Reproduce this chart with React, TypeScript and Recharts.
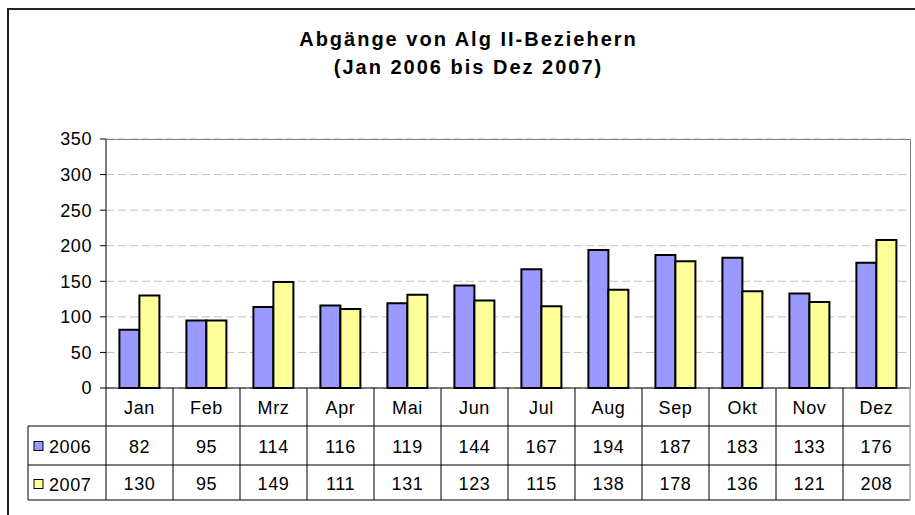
import React from 'react';
import { BarChart, Bar, XAxis, YAxis, CartesianGrid } from 'recharts';

const months = ['Jan', 'Feb', 'Mrz', 'Apr', 'Mai', 'Jun', 'Jul', 'Aug', 'Sep', 'Okt', 'Nov', 'Dez'];
const values2006 = [82, 95, 114, 116, 119, 144, 167, 194, 187, 183, 133, 176];
const values2007 = [130, 95, 149, 111, 131, 123, 115, 138, 178, 136, 121, 208];
const yTicks = [0, 50, 100, 150, 200, 250, 300, 350];
const seriesNames = ['2006', '2007'];
const titleLines = ['Abgänge von Alg II-Beziehern', '(Jan 2006 bis Dez 2007)'];

const data = months.map((m, i) => ({ month: m, v2006: values2006[i], v2007: values2007[i] }));

const W = 915;
const H = 515;
const PLOT_LEFT = 106;
const PLOT_RIGHT = 910;
const PLOT_TOP = 139;
const PLOT_BOTTOM = 388;
const ROW1 = 426;
const ROW2 = 465;
const ROW3 = 500;
const LEGEND_LEFT = 28;
const FONT = '"Liberation Sans", Arial, sans-serif';
const COLORS = ['#9999FF', '#FFFF99'];
const CW = (PLOT_RIGHT - PLOT_LEFT) / months.length;

const TableTick = (props: any) => {
  const { x, payload, index } = props;
  const row = data[index];
  const textStyle = { fontFamily: FONT, fontSize: 18, letterSpacing: 0.6, fill: '#000' } as any;
  const right = x + CW / 2;
  const first = index === 0;
  const left = x - CW / 2;
  return (
    <g>
      <text x={x} y={414} textAnchor="middle" style={textStyle}>{payload.value}</text>
      <text x={x} y={453} textAnchor="middle" style={textStyle}>{row.v2006}</text>
      <text x={x} y={490} textAnchor="middle" style={textStyle}>{row.v2007}</text>
      <line x1={right} y1={PLOT_BOTTOM} x2={right} y2={ROW3} stroke={index === months.length - 1 ? '#808080' : '#000'} strokeWidth={1} />
      {first && (
        <g>
          <line x1={left} y1={PLOT_BOTTOM} x2={left} y2={ROW3} stroke="#000" strokeWidth={1} />
          <line x1={left} y1={ROW1} x2={PLOT_RIGHT} y2={ROW1} stroke="#000" strokeWidth={1} />
          <line x1={LEGEND_LEFT} y1={ROW1} x2={left} y2={ROW1} stroke="#000" strokeWidth={1} />
          <line x1={LEGEND_LEFT} y1={ROW2} x2={PLOT_RIGHT} y2={ROW2} stroke="#000" strokeWidth={1} />
          <line x1={LEGEND_LEFT} y1={ROW3} x2={PLOT_RIGHT} y2={ROW3} stroke="#000" strokeWidth={1} />
          <line x1={LEGEND_LEFT} y1={ROW1} x2={LEGEND_LEFT} y2={ROW3} stroke="#000" strokeWidth={1} />
          {seriesNames.map((s, i) => {
            const cy = i === 0 ? 446 : 484;
            return (
              <g key={s}>
                <rect x={34} y={cy - 4.5} width={9} height={9} fill={COLORS[i]} stroke="#000" strokeWidth={1} />
                <text x={49} y={cy + 6.5} style={textStyle}>{s}</text>
              </g>
            );
          })}
        </g>
      )}
    </g>
  );
};

export default function App() {
  return (
    <div style={{ position: 'absolute', left: 0, top: 0, width: W, height: H, background: '#fff', overflow: 'hidden' }}>
      <div style={{ position: 'absolute', left: 7, top: 8, width: W, height: H, borderTop: '2px solid #222', borderLeft: '2px solid #222', boxSizing: 'border-box' }} />
      <div style={{ position: 'absolute', left: 0, top: 0, width: 937, textAlign: 'center', fontFamily: FONT, fontWeight: 'bold', fontSize: 20, letterSpacing: 2, color: '#000' }}>
        <div style={{ position: 'absolute', top: 27, width: '100%', lineHeight: '24px' }}>{titleLines[0]}</div>
        <div style={{ position: 'absolute', top: 55, width: '100%', lineHeight: '24px' }}>{titleLines[1]}</div>
      </div>
      <div style={{ position: 'absolute', left: 0, top: 0 }}>
        <BarChart
          width={W}
          height={H}
          data={data}
          margin={{ top: PLOT_TOP, right: W - PLOT_RIGHT, bottom: 15, left: 0 }}
          barCategoryGap="20%"
          barGap={0}
        >
          <CartesianGrid horizontal vertical={false} stroke="#c0c0c0" strokeDasharray="8 4" />
          <YAxis
            width={PLOT_LEFT}
            domain={[0, 350]}
            ticks={yTicks}
            interval={0}
            axisLine={{ stroke: '#000' }}
            tickLine={{ stroke: '#000' }}
            tickSize={6}
            tickMargin={8}
            tick={{ fill: '#000', fontSize: 18, fontFamily: FONT, letterSpacing: 0.6 } as any}
          />
          <XAxis
            dataKey="month"
            height={H - 15 - PLOT_BOTTOM}
            interval={0}
            axisLine={{ stroke: '#000' }}
            tickLine={false}
            tick={<TableTick />}
          />
          <Bar dataKey="v2006" fill={COLORS[0]} stroke="#000" strokeWidth={2} isAnimationActive={false} />
          <Bar dataKey="v2007" fill={COLORS[1]} stroke="#000" strokeWidth={2} isAnimationActive={false} />
        </BarChart>
      </div>
      <div style={{ position: 'absolute', left: PLOT_LEFT, top: PLOT_TOP, width: PLOT_RIGHT - PLOT_LEFT + 1, height: PLOT_BOTTOM - PLOT_TOP, borderTop: '1px solid #808080', borderRight: '1px solid #808080', boxSizing: 'border-box', pointerEvents: 'none' }} />
    </div>
  );
}
